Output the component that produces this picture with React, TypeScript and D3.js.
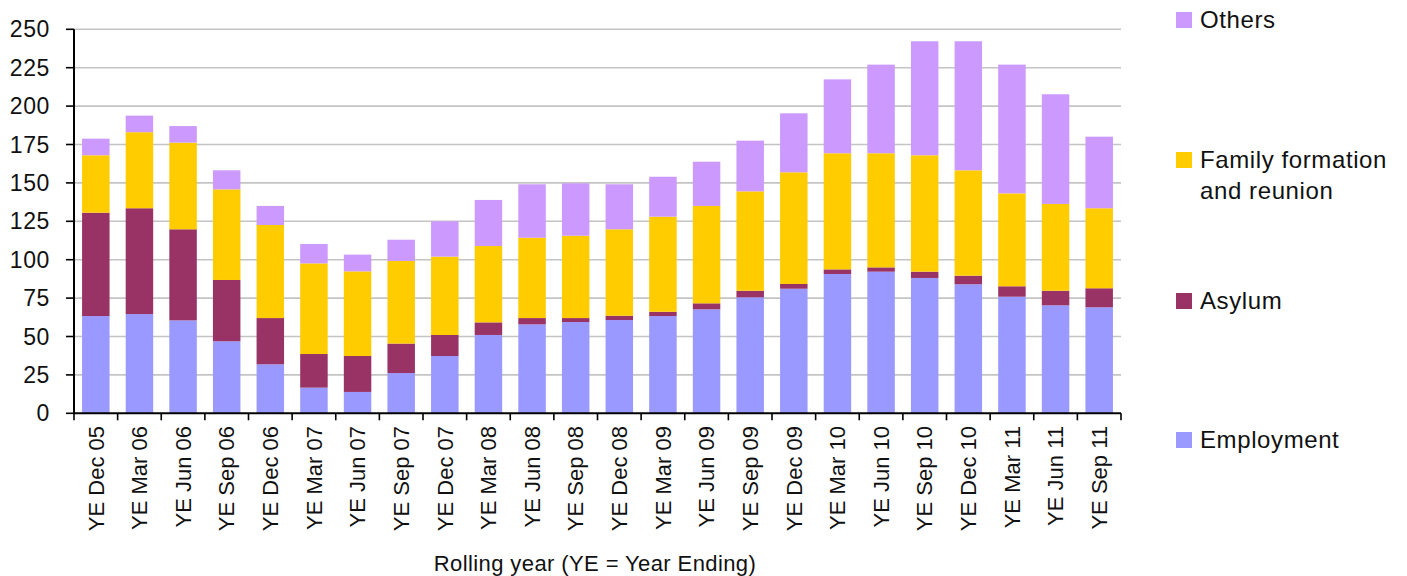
import React from 'react';
import * as d3 from 'd3';

const categories = [
  'YE Dec 05', 'YE Mar 06', 'YE Jun 06', 'YE Sep 06', 'YE Dec 06', 'YE Mar 07',
  'YE Jun 07', 'YE Sep 07', 'YE Dec 07', 'YE Mar 08', 'YE Jun 08', 'YE Sep 08',
  'YE Dec 08', 'YE Mar 09', 'YE Jun 09', 'YE Sep 09', 'YE Dec 09', 'YE Mar 10',
  'YE Jun 10', 'YE Sep 10', 'YE Dec 10', 'YE Mar 11', 'YE Jun 11', 'YE Sep 11',
];

const employment = [
  63.3, 64.6, 60.5, 46.9, 31.9, 16.7, 13.9, 26.2, 37.3, 51, 57.9, 59.4,
  60.7, 63.3, 67.7, 75.5, 81.1, 90.7, 92.2, 88.1, 84, 75.9, 70.3, 69,
];
const asylum = [
  67.3, 68.9, 59.3, 39.9, 30.1, 21.9, 23.4, 19.2, 13.7, 8.2, 4.1, 2.6,
  2.8, 2.8, 3.9, 4.3, 3.1, 3, 2.8, 4.1, 5.6, 6.8, 9.5, 12.4,
];
const family = [
  37.4, 49.5, 56.4, 59, 60.6, 59, 55.1, 53.8, 51, 49.7, 52.3, 53.6,
  56.3, 61.9, 63.4, 64.7, 72.7, 75.6, 74.3, 75.8, 68.6, 60.5, 56.5, 52.1,
];
const others = [
  10.8, 10.8, 10.8, 12.4, 12.4, 12.6, 10.9, 13.8, 23, 30, 34.8, 34.1,
  29.3, 26, 28.8, 33, 38.4, 48.1, 57.7, 74.2, 84, 83.8, 71.4, 46.6,
];

const yTicks = [0, 25, 50, 75, 100, 125, 150, 175, 200, 225, 250];

const seriesKeys = ['Employment', 'Asylum', 'Family', 'Others'];
const seriesColors: Record<string, string> = {
  Employment: '#9999FF',
  Asylum: '#993366',
  Family: '#FFCC00',
  Others: '#CC99FF',
};

const legendItems = [
  { key: 'Others', lines: ['Others'], y: 20 },
  { key: 'Family', lines: ['Family formation', 'and reunion'], y: 160 },
  { key: 'Asylum', lines: ['Asylum'], y: 301 },
  { key: 'Employment', lines: ['Employment'], y: 440 },
];

const font = 'Arial, "Liberation Sans", sans-serif';

const App: React.FC = () => {
  const width = 1407;
  const height = 576;
  const left = 74;
  const right = 1121;
  const top = 29.3;
  const bottom = 413.3;

  const rows = categories.map((c, i) => ({
    cat: c,
    Employment: employment[i],
    Asylum: asylum[i],
    Family: family[i],
    Others: others[i],
  }));

  const stack = d3.stack<any>().keys(seriesKeys)(rows);

  const x = d3
    .scaleBand<string>()
    .domain(categories)
    .range([left, right])
    .paddingInner(0.37)
    .paddingOuter(0.185);

  const y = d3.scaleLinear().domain([0, 250]).range([bottom, top]);

  const step = x.step();
  const tickXs = categories.map((_, i) => left + i * step).concat([right]);

  return (
    <svg
      width={width}
      height={height}
      style={{ position: 'absolute', left: 0, top: 0, display: 'block', background: '#fff' }}
      fontFamily={font}
    >
      {/* gridlines */}
      {yTicks.slice(1).map((t) => (
        <line key={t} x1={left} x2={right} y1={y(t)} y2={y(t)} stroke="#c4c4c4" strokeWidth={1.6} />
      ))}

      {/* bars */}
      {stack.map((s) => (
        <g key={s.key} fill={seriesColors[s.key]}>
          {s.map((d, i) => (
            <rect
              key={i}
              x={x(categories[i])!}
              y={y(d[1])}
              width={x.bandwidth()}
              height={y(d[0]) - y(d[1])}
            />
          ))}
        </g>
      ))}

      {/* y axis */}
      <line x1={left} x2={left} y1={top} y2={bottom} stroke="#000" strokeWidth={2} />
      {yTicks.map((t) => (
        <g key={t}>
          <line x1={left - 8} x2={left} y1={y(t)} y2={y(t)} stroke="#000" strokeWidth={1.6} />
          <text x={50} y={y(t)} dy="0.35em" textAnchor="end" fontSize={23} letterSpacing={0.6} fill="#111">
            {t}
          </text>
        </g>
      ))}

      {/* x axis */}
      <line x1={left} x2={right} y1={bottom} y2={bottom} stroke="#000" strokeWidth={2} />
      {tickXs.map((tx, i) => (
        <line key={i} x1={tx} x2={tx} y1={bottom} y2={bottom + 7} stroke="#000" strokeWidth={1.6} />
      ))}
      {categories.map((c) => (
        <text
          key={c}
          transform={`translate(${x(c)! + x.bandwidth() / 2},${426}) rotate(-90)`}
          dy="0.35em"
          textAnchor="end"
          fontSize={22}
          fill="#111"
        >
          {c}
        </text>
      ))}
      <text x={595} y={563} dy="0.35em" textAnchor="middle" fontSize={22} letterSpacing={0.4} fill="#111">
        Rolling year (YE = Year Ending)
      </text>

      {/* legend */}
      {legendItems.map((item) => (
        <g key={item.key}>
          <rect x={1176} y={item.y - 8} width={16} height={16} fill={seriesColors[item.key]} />
          {item.lines.map((ln, j) => (
            <text key={j} x={1200} y={item.y + j * 31} dy="0.35em" fontSize={24} letterSpacing={0.6} fill="#111">
              {ln}
            </text>
          ))}
        </g>
      ))}
    </svg>
  );
};

export default App;
